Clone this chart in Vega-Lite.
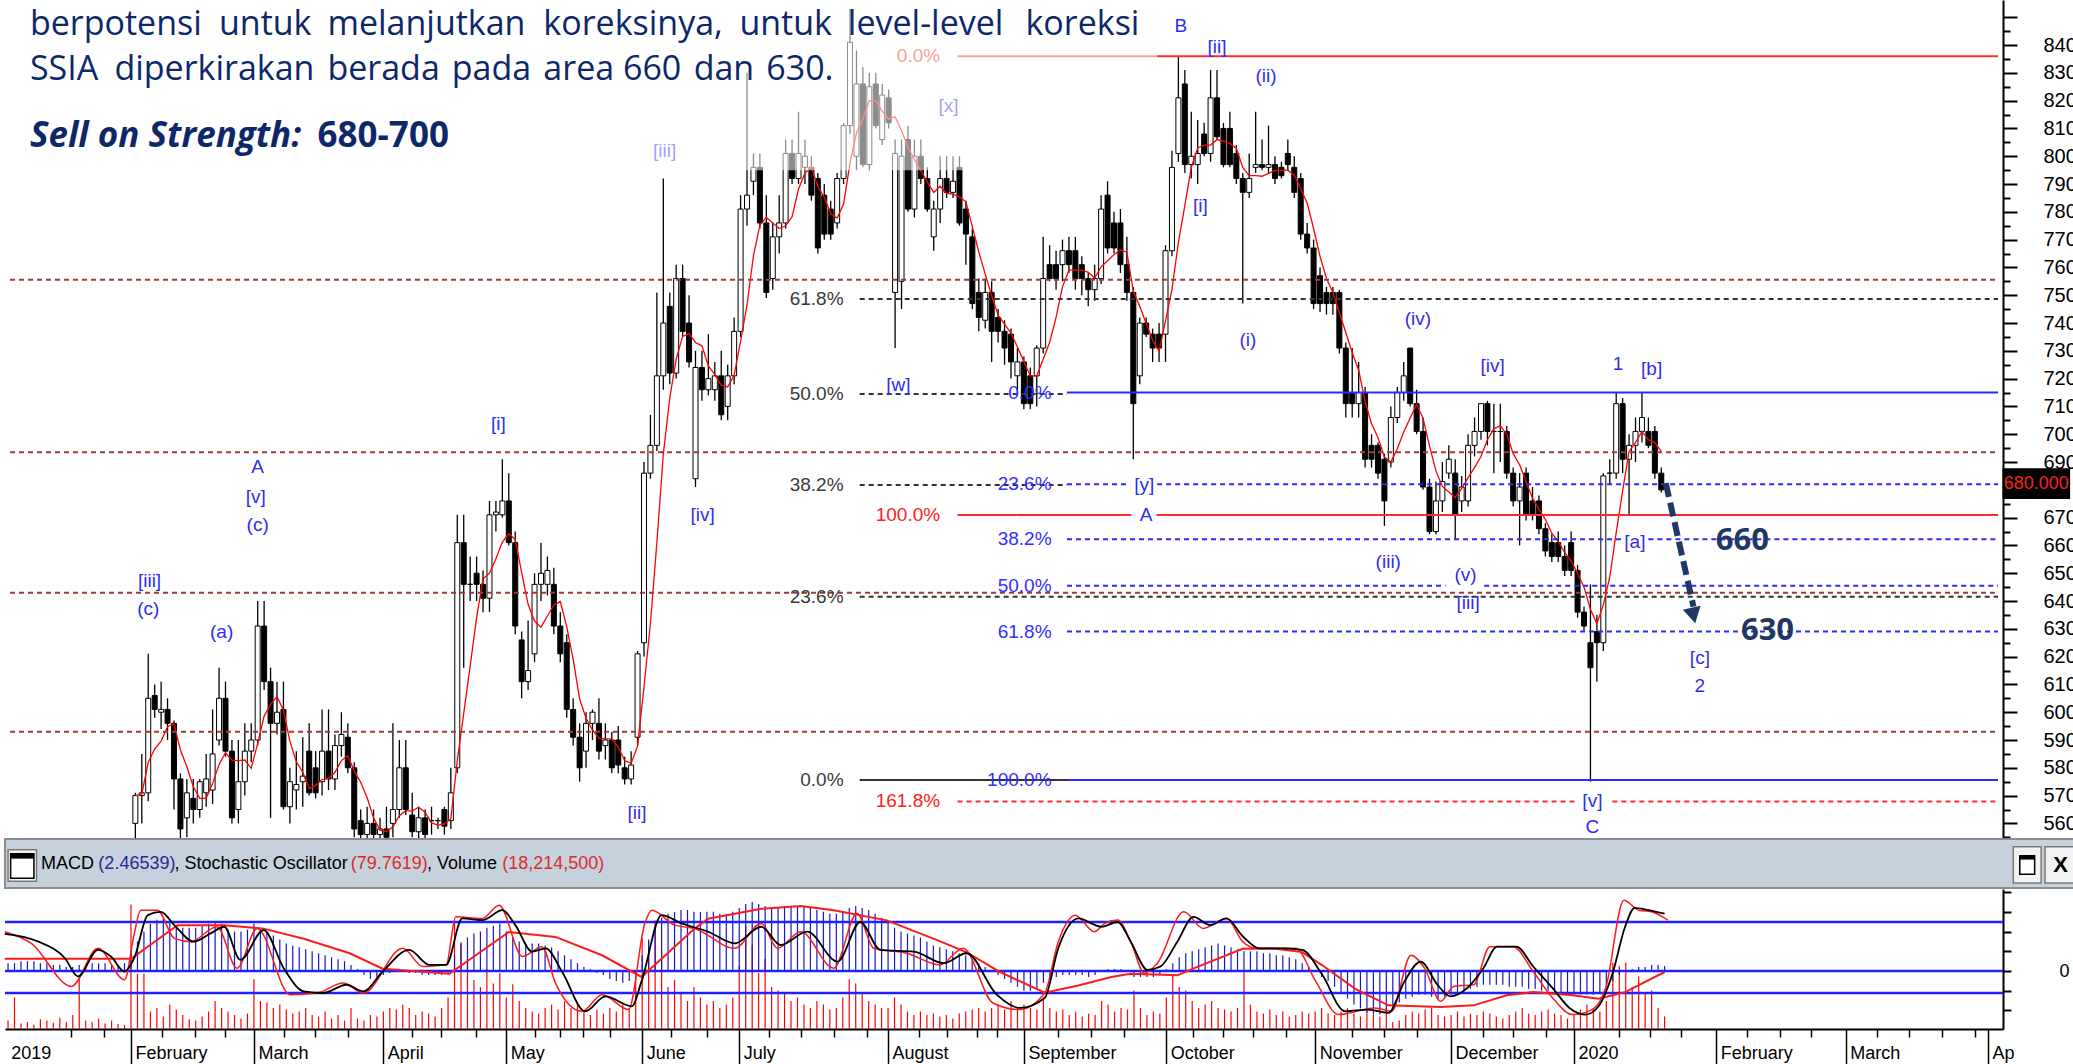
{
"$schema":"https://vega.github.io/schema/vega-lite/v6.json",
"background":"white",
"padding":0,
"spacing":0,
"config":{"view":{"stroke":null},"concat":{"spacing":0}},
"datasets":{
"px":[
{"i":0,"o":560,"h":571,"l":550,"c":570},{"i":1,"o":570,"h":585,"l":560,"c":571},{"i":2,"o":571,"h":621,"l":568,"c":605},{"i":3,"o":606,"h":610,"l":598,"c":601},{"i":4,"o":600,"h":611,"l":594,"c":601},{"i":5,"o":601,"h":605,"l":590,"c":596},{"i":6,"o":596,"h":597,"l":565,"c":576},{"i":7,"o":576,"h":578,"l":552,"c":558},{"i":8,"o":562,"h":576,"l":555,"c":571},{"i":9,"o":569,"h":576,"l":560,"c":565},
{"i":10,"o":565,"h":576,"l":562,"c":575},{"i":11,"o":571,"h":585,"l":566,"c":576},{"i":12,"o":572,"h":601,"l":567,"c":585},{"i":13,"o":590,"h":616,"l":588,"c":605},{"i":14,"o":605,"h":611,"l":584,"c":586},{"i":15,"o":586,"h":590,"l":560,"c":562},{"i":16,"o":565,"h":590,"l":560,"c":575},{"i":17,"o":575,"h":596,"l":570,"c":586},{"i":18,"o":586,"h":596,"l":582,"c":590},{"i":19,"o":590,"h":640,"l":588,"c":631},
{"i":20,"o":631,"h":640,"l":608,"c":611},{"i":21,"o":611,"h":616,"l":562,"c":596},{"i":22,"o":596,"h":611,"l":592,"c":600},{"i":23,"o":601,"h":611,"l":565,"c":566},{"i":24,"o":566,"h":580,"l":560,"c":575},{"i":25,"o":572,"h":586,"l":565,"c":574},{"i":26,"o":575,"h":591,"l":566,"c":577},{"i":27,"o":586,"h":596,"l":570,"c":571},{"i":28,"o":580,"h":586,"l":569,"c":571},{"i":29,"o":575,"h":601,"l":570,"c":586},
{"i":30,"o":586,"h":601,"l":572,"c":576},{"i":31,"o":576,"h":592,"l":572,"c":588},{"i":32,"o":588,"h":600,"l":584,"c":592},{"i":33,"o":591,"h":596,"l":578,"c":580},{"i":34,"o":580,"h":582,"l":555,"c":558},{"i":35,"o":561,"h":565,"l":550,"c":556},{"i":36,"o":556,"h":566,"l":550,"c":560},{"i":37,"o":560,"h":565,"l":552,"c":556},{"i":38,"o":556,"h":562,"l":550,"c":558},{"i":39,"o":558,"h":566,"l":550,"c":555},
{"i":40,"o":560,"h":596,"l":555,"c":565},{"i":41,"o":565,"h":590,"l":562,"c":580},{"i":42,"o":580,"h":590,"l":563,"c":565},{"i":43,"o":563,"h":571,"l":555,"c":557},{"i":44,"o":557,"h":566,"l":552,"c":562},{"i":45,"o":562,"h":565,"l":550,"c":556},{"i":46,"o":561,"h":566,"l":556,"c":561},{"i":47,"o":561,"h":562,"l":558,"c":561},{"i":48,"o":565,"h":566,"l":556,"c":559},{"i":49,"o":561,"h":580,"l":558,"c":571},
{"i":50,"o":580,"h":671,"l":578,"c":661},{"i":51,"o":661,"h":671,"l":616,"c":646},{"i":52,"o":646,"h":656,"l":640,"c":646},{"i":53,"o":650,"h":656,"l":640,"c":646},{"i":54,"o":646,"h":651,"l":636,"c":641},{"i":55,"o":641,"h":676,"l":636,"c":671},{"i":56,"o":671,"h":676,"l":665,"c":672},{"i":57,"o":671,"h":691,"l":670,"c":676},{"i":58,"o":676,"h":686,"l":660,"c":661},{"i":59,"o":661,"h":665,"l":628,"c":631},
{"i":60,"o":626,"h":629,"l":605,"c":611},{"i":61,"o":611,"h":633,"l":608,"c":615},{"i":62,"o":621,"h":650,"l":618,"c":646},{"i":63,"o":646,"h":661,"l":640,"c":650},{"i":64,"o":646,"h":656,"l":642,"c":651},{"i":65,"o":646,"h":652,"l":628,"c":631},{"i":66,"o":631,"h":636,"l":618,"c":621},{"i":67,"o":625,"h":628,"l":598,"c":601},{"i":68,"o":601,"h":605,"l":588,"c":591},{"i":69,"o":591,"h":596,"l":575,"c":580},
{"i":70,"o":586,"h":600,"l":580,"c":596},{"i":71,"o":596,"h":601,"l":590,"c":600},{"i":72,"o":596,"h":605,"l":583,"c":586},{"i":73,"o":588,"h":596,"l":583,"c":590},{"i":74,"o":590,"h":593,"l":578,"c":580},{"i":75,"o":590,"h":595,"l":578,"c":581},{"i":76,"o":580,"h":584,"l":574,"c":576},{"i":77,"o":576,"h":586,"l":574,"c":581},{"i":78,"o":591,"h":622,"l":588,"c":621},{"i":79,"o":625,"h":690,"l":620,"c":686},
{"i":80,"o":686,"h":707,"l":684,"c":696},{"i":81,"o":696,"h":751,"l":694,"c":721},{"i":82,"o":721,"h":792,"l":716,"c":740},{"i":83,"o":746,"h":751,"l":718,"c":722},{"i":84,"o":722,"h":761,"l":720,"c":756},{"i":85,"o":756,"h":761,"l":735,"c":737},{"i":86,"o":740,"h":750,"l":724,"c":726},{"i":87,"o":684,"h":730,"l":681,"c":724},{"i":88,"o":724,"h":730,"l":712,"c":716},{"i":89,"o":716,"h":736,"l":714,"c":720},
{"i":90,"o":716,"h":726,"l":712,"c":721},{"i":91,"o":721,"h":730,"l":705,"c":707},{"i":92,"o":710,"h":725,"l":705,"c":721},{"i":93,"o":721,"h":742,"l":718,"c":737},{"i":94,"o":737,"h":786,"l":735,"c":781},{"i":95,"o":781,"h":830,"l":775,"c":786},{"i":96,"o":791,"h":801,"l":786,"c":796},{"i":97,"o":796,"h":801,"l":774,"c":776},{"i":98,"o":776,"h":786,"l":749,"c":751},{"i":99,"o":756,"h":776,"l":752,"c":771},
{"i":100,"o":771,"h":786,"l":765,"c":776},{"i":101,"o":776,"h":806,"l":774,"c":801},{"i":102,"o":801,"h":806,"l":790,"c":792},{"i":103,"o":792,"h":816,"l":790,"c":801},{"i":104,"o":796,"h":806,"l":790,"c":800},{"i":105,"o":796,"h":800,"l":784,"c":786},{"i":106,"o":792,"h":794,"l":765,"c":767},{"i":107,"o":786,"h":790,"l":770,"c":772},{"i":108,"o":781,"h":784,"l":770,"c":772},{"i":109,"o":776,"h":794,"l":774,"c":792},
{"i":110,"o":792,"h":812,"l":790,"c":811},{"i":111,"o":811,"h":853,"l":808,"c":841},{"i":112,"o":800,"h":838,"l":795,"c":826},{"i":113,"o":826,"h":832,"l":796,"c":797},{"i":114,"o":797,"h":830,"l":795,"c":825},{"i":115,"o":826,"h":830,"l":810,"c":811},{"i":116,"o":806,"h":826,"l":804,"c":822},{"i":117,"o":821,"h":824,"l":810,"c":812},{"i":118,"o":751,"h":806,"l":731,"c":801},{"i":119,"o":755,"h":806,"l":745,"c":800},
{"i":120,"o":806,"h":811,"l":780,"c":781},{"i":121,"o":781,"h":806,"l":778,"c":800},{"i":122,"o":800,"h":806,"l":790,"c":792},{"i":123,"o":792,"h":796,"l":780,"c":781},{"i":124,"o":771,"h":784,"l":766,"c":781},{"i":125,"o":781,"h":800,"l":776,"c":792},{"i":126,"o":792,"h":800,"l":785,"c":787},{"i":127,"o":787,"h":800,"l":785,"c":791},{"i":128,"o":796,"h":800,"l":775,"c":776},{"i":129,"o":781,"h":784,"l":761,"c":772},
{"i":130,"o":771,"h":774,"l":745,"c":747},{"i":131,"o":751,"h":756,"l":737,"c":742},{"i":132,"o":741,"h":756,"l":738,"c":751},{"i":133,"o":751,"h":755,"l":726,"c":737},{"i":134,"o":742,"h":745,"l":733,"c":737},{"i":135,"o":737,"h":741,"l":725,"c":731},{"i":136,"o":736,"h":738,"l":720,"c":726},{"i":137,"o":721,"h":731,"l":716,"c":726},{"i":138,"o":726,"h":728,"l":709,"c":711},{"i":139,"o":721,"h":724,"l":709,"c":711},
{"i":140,"o":721,"h":732,"l":710,"c":731},{"i":141,"o":731,"h":771,"l":729,"c":756},{"i":142,"o":761,"h":768,"l":755,"c":756},{"i":143,"o":761,"h":766,"l":752,"c":756},{"i":144,"o":761,"h":770,"l":755,"c":766},{"i":145,"o":766,"h":771,"l":758,"c":761},{"i":146,"o":766,"h":771,"l":752,"c":756},{"i":147,"o":761,"h":764,"l":750,"c":756},{"i":148,"o":756,"h":758,"l":746,"c":752},{"i":149,"o":752,"h":761,"l":748,"c":756},
{"i":150,"o":756,"h":786,"l":754,"c":781},{"i":151,"o":786,"h":791,"l":765,"c":767},{"i":152,"o":776,"h":780,"l":765,"c":767},{"i":153,"o":776,"h":781,"l":758,"c":761},{"i":154,"o":761,"h":771,"l":748,"c":751},{"i":155,"o":751,"h":753,"l":691,"c":711},{"i":156,"o":721,"h":742,"l":718,"c":740},{"i":157,"o":740,"h":742,"l":735,"c":736},{"i":158,"o":736,"h":738,"l":726,"c":731},{"i":159,"o":736,"h":740,"l":726,"c":731},
{"i":160,"o":736,"h":768,"l":726,"c":766},{"i":161,"o":766,"h":802,"l":764,"c":796},{"i":162,"o":801,"h":836,"l":798,"c":821},{"i":163,"o":826,"h":831,"l":794,"c":797},{"i":164,"o":797,"h":816,"l":792,"c":800},{"i":165,"o":797,"h":813,"l":790,"c":801},{"i":166,"o":808,"h":812,"l":800,"c":801},{"i":167,"o":801,"h":831,"l":798,"c":821},{"i":168,"o":821,"h":831,"l":806,"c":807},{"i":169,"o":810,"h":812,"l":796,"c":797},
{"i":170,"o":810,"h":816,"l":796,"c":797},{"i":171,"o":801,"h":804,"l":790,"c":792},{"i":172,"o":792,"h":794,"l":747,"c":787},{"i":173,"o":787,"h":801,"l":785,"c":792},{"i":174,"o":796,"h":816,"l":794,"c":797},{"i":175,"o":797,"h":806,"l":795,"c":796},{"i":176,"o":796,"h":811,"l":794,"c":797},{"i":177,"o":797,"h":800,"l":790,"c":792},{"i":178,"o":796,"h":798,"l":792,"c":793},{"i":179,"o":801,"h":806,"l":795,"c":797},
{"i":180,"o":796,"h":800,"l":785,"c":787},{"i":181,"o":792,"h":794,"l":770,"c":772},{"i":182,"o":772,"h":776,"l":765,"c":767},{"i":183,"o":767,"h":770,"l":745,"c":747},{"i":184,"o":757,"h":760,"l":744,"c":747},{"i":185,"o":751,"h":753,"l":743,"c":747},{"i":186,"o":751,"h":753,"l":743,"c":747},{"i":187,"o":751,"h":752,"l":729,"c":731},{"i":188,"o":731,"h":733,"l":706,"c":711},{"i":189,"o":715,"h":731,"l":706,"c":711},
{"i":190,"o":711,"h":726,"l":706,"c":715},{"i":191,"o":715,"h":717,"l":688,"c":691},{"i":192,"o":696,"h":700,"l":688,"c":691},{"i":193,"o":696,"h":697,"l":684,"c":686},{"i":194,"o":691,"h":693,"l":667,"c":676},{"i":195,"o":690,"h":710,"l":688,"c":706},{"i":196,"o":706,"h":717,"l":704,"c":715},{"i":197,"o":715,"h":726,"l":712,"c":721},{"i":198,"o":731,"h":731,"l":710,"c":711},{"i":199,"o":711,"h":716,"l":700,"c":701},
{"i":200,"o":701,"h":706,"l":680,"c":681},{"i":201,"o":681,"h":684,"l":664,"c":665},{"i":202,"o":665,"h":683,"l":664,"c":676},{"i":203,"o":676,"h":690,"l":672,"c":683},{"i":204,"o":686,"h":696,"l":684,"c":691},{"i":205,"o":686,"h":691,"l":662,"c":671},{"i":206,"o":676,"h":685,"l":672,"c":681},{"i":207,"o":676,"h":700,"l":674,"c":696},{"i":208,"o":696,"h":706,"l":692,"c":701},{"i":209,"o":701,"h":711,"l":698,"c":711},
{"i":210,"o":711,"h":712,"l":696,"c":701},{"i":211,"o":701,"h":711,"l":686,"c":701},{"i":212,"o":701,"h":711,"l":690,"c":701},{"i":213,"o":701,"h":703,"l":684,"c":686},{"i":214,"o":686,"h":688,"l":674,"c":676},{"i":215,"o":676,"h":686,"l":660,"c":681},{"i":216,"o":686,"h":688,"l":669,"c":671},{"i":217,"o":676,"h":681,"l":669,"c":671},{"i":218,"o":676,"h":678,"l":664,"c":666},{"i":219,"o":666,"h":668,"l":656,"c":658},
{"i":220,"o":661,"h":664,"l":654,"c":656},{"i":221,"o":661,"h":665,"l":654,"c":656},{"i":222,"o":656,"h":660,"l":649,"c":651},{"i":223,"o":661,"h":665,"l":649,"c":651},{"i":224,"o":651,"h":653,"l":634,"c":636},{"i":225,"o":636,"h":638,"l":629,"c":631},{"i":226,"o":625,"h":646,"l":575,"c":616},{"i":227,"o":629,"h":635,"l":611,"c":625},{"i":228,"o":625,"h":686,"l":622,"c":685},{"i":229,"o":686,"h":691,"l":682,"c":686},
{"i":230,"o":686,"h":715,"l":684,"c":711},{"i":231,"o":711,"h":713,"l":686,"c":691},{"i":232,"o":691,"h":700,"l":671,"c":696},{"i":233,"o":696,"h":706,"l":690,"c":701},{"i":234,"o":701,"h":715,"l":697,"c":706},{"i":235,"o":701,"h":706,"l":695,"c":696},{"i":236,"o":701,"h":703,"l":684,"c":686},{"i":237,"o":686,"h":688,"l":679,"c":680}
],
"ind":[
{"i":-19,"v":12,"m":4},{"i":-18,"v":45,"m":4},{"i":-17,"v":8,"m":5},{"i":-16,"v":10,"m":5},{"i":-15,"v":6,"m":5},{"i":-14,"v":14,"m":4},{"i":-13,"v":12,"m":4},{"i":-12,"v":9,"m":3},{"i":-11,"v":16,"m":3},{"i":-10,"v":10,"m":2},{"i":-9,"v":20,"m":2},{"i":-8,"v":74,"m":3},{"i":-7,"v":12,"m":3},{"i":-6,"v":10,"m":4},{"i":-5,"v":15,"m":4},{"i":-4,"v":8,"m":4},{"i":-3,"v":12,"m":3},{"i":-2,"v":7,"m":3},{"i":-1,"v":6,"m":4},
{"i":0,"v":178,"m":10},{"i":1,"v":79,"m":15},{"i":2,"v":79,"m":20},{"i":3,"v":25,"m":24},{"i":4,"v":30,"m":26},{"i":5,"v":18,"m":27},{"i":6,"v":35,"m":25},{"i":7,"v":28,"m":23},{"i":8,"v":20,"m":22},{"i":9,"v":14,"m":22},{"i":10,"v":12,"m":22},{"i":11,"v":18,"m":23},{"i":12,"v":25,"m":24},{"i":13,"v":40,"m":25},{"i":14,"v":30,"m":24},{"i":15,"v":25,"m":21},{"i":16,"v":20,"m":20},{"i":17,"v":15,"m":20},{"i":18,"v":22,"m":21},
{"i":19,"v":71,"m":24},{"i":20,"v":40,"m":22},{"i":21,"v":38,"m":20},{"i":22,"v":30,"m":18},{"i":23,"v":35,"m":16},{"i":24,"v":28,"m":14},{"i":25,"v":22,"m":13},{"i":26,"v":25,"m":12},{"i":27,"v":30,"m":11},{"i":28,"v":20,"m":10},{"i":29,"v":18,"m":9},{"i":30,"v":25,"m":8},{"i":31,"v":15,"m":7},{"i":32,"v":20,"m":6},{"i":33,"v":12,"m":5},{"i":34,"v":30,"m":3},{"i":35,"v":15,"m":1},{"i":36,"v":12,"m":-2},{"i":37,"v":20,"m":-4},{"i":38,"v":18,"m":-3},
{"i":39,"v":25,"m":-2},{"i":40,"v":30,"m":-1},{"i":41,"v":28,"m":0},{"i":42,"v":35,"m":0},{"i":43,"v":30,"m":-1},{"i":44,"v":20,"m":-1},{"i":45,"v":25,"m":-2},{"i":46,"v":22,"m":-2},{"i":47,"v":18,"m":-2},{"i":48,"v":30,"m":-2},{"i":49,"v":45,"m":-1},{"i":50,"v":155,"m":8},{"i":51,"v":124,"m":14},{"i":52,"v":100,"m":17},{"i":53,"v":70,"m":19},{"i":54,"v":60,"m":20},{"i":55,"v":85,"m":22},{"i":56,"v":65,"m":23},{"i":57,"v":80,"m":24},
{"i":58,"v":45,"m":20},{"i":59,"v":64,"m":17},{"i":60,"v":40,"m":15},{"i":61,"v":30,"m":14},{"i":62,"v":25,"m":14},{"i":63,"v":22,"m":14},{"i":64,"v":30,"m":13},{"i":65,"v":35,"m":12},{"i":66,"v":28,"m":10},{"i":67,"v":40,"m":8},{"i":68,"v":30,"m":6},{"i":69,"v":35,"m":4},{"i":70,"v":25,"m":2},{"i":71,"v":20,"m":1},{"i":72,"v":28,"m":-1},{"i":73,"v":22,"m":-2},{"i":74,"v":30,"m":-4},{"i":75,"v":25,"m":-5},{"i":76,"v":35,"m":-6},{"i":77,"v":30,"m":-5},{"i":78,"v":83,"m":-2},
{"i":79,"v":130,"m":8},{"i":80,"v":125,"m":16},{"i":81,"v":155,"m":22},{"i":82,"v":110,"m":27},{"i":83,"v":60,"m":29},{"i":84,"v":70,"m":30},{"i":85,"v":50,"m":31},{"i":86,"v":40,"m":31},{"i":87,"v":60,"m":30},{"i":88,"v":45,"m":30},{"i":89,"v":35,"m":30},{"i":90,"v":40,"m":30},{"i":91,"v":30,"m":29},{"i":92,"v":35,"m":29},{"i":93,"v":45,"m":30},
{"i":94,"v":90,"m":32},{"i":95,"v":147,"m":34},{"i":96,"v":120,"m":35},{"i":97,"v":80,"m":34},{"i":98,"v":100,"m":33},{"i":99,"v":60,"m":32},{"i":100,"v":55,"m":32},{"i":101,"v":50,"m":33},{"i":102,"v":40,"m":33},{"i":103,"v":45,"m":33},{"i":104,"v":35,"m":33},{"i":105,"v":30,"m":32},{"i":106,"v":40,"m":31},{"i":107,"v":35,"m":30},{"i":108,"v":28,"m":29},{"i":109,"v":30,"m":29},{"i":110,"v":45,"m":30},{"i":111,"v":71,"m":32},{"i":112,"v":65,"m":33},{"i":113,"v":50,"m":32},{"i":114,"v":40,"m":31},{"i":115,"v":35,"m":29},{"i":116,"v":30,"m":27},
{"i":117,"v":30,"m":25},{"i":118,"v":45,"m":22},{"i":119,"v":35,"m":20},{"i":120,"v":25,"m":19},{"i":121,"v":20,"m":18},{"i":122,"v":25,"m":17},{"i":123,"v":20,"m":15},{"i":124,"v":22,"m":13},{"i":125,"v":18,"m":12},{"i":126,"v":20,"m":11},{"i":127,"v":15,"m":10},{"i":128,"v":22,"m":9},{"i":129,"v":25,"m":8},{"i":130,"v":28,"m":6},{"i":131,"v":30,"m":4},{"i":132,"v":25,"m":2},{"i":133,"v":30,"m":0},{"i":134,"v":35,"m":-2},{"i":135,"v":28,"m":-4},{"i":136,"v":40,"m":-6},{"i":137,"v":30,"m":-8},
{"i":138,"v":35,"m":-10},{"i":139,"v":30,"m":-10},{"i":140,"v":28,"m":-9},{"i":141,"v":45,"m":-6},{"i":142,"v":30,"m":-4},{"i":143,"v":25,"m":-3},{"i":144,"v":28,"m":-2},{"i":145,"v":20,"m":-2},{"i":146,"v":25,"m":-2},{"i":147,"v":18,"m":-2},{"i":148,"v":22,"m":-3},{"i":149,"v":20,"m":-2},{"i":150,"v":40,"m":0},{"i":151,"v":35,"m":1},{"i":152,"v":25,"m":1},{"i":153,"v":30,"m":1},{"i":154,"v":28,"m":0},{"i":155,"v":55,"m":-3},{"i":156,"v":30,"m":-3},{"i":157,"v":20,"m":-3},{"i":158,"v":25,"m":-3},{"i":159,"v":22,"m":-2},
{"i":160,"v":45,"m":1},{"i":161,"v":76,"m":4},{"i":162,"v":60,"m":7},{"i":163,"v":55,"m":9},{"i":164,"v":40,"m":10},{"i":165,"v":30,"m":11},{"i":166,"v":35,"m":12},{"i":167,"v":40,"m":13},{"i":168,"v":30,"m":14},{"i":169,"v":28,"m":13},{"i":170,"v":25,"m":12},{"i":171,"v":30,"m":11},{"i":172,"v":83,"m":10},{"i":173,"v":35,"m":10},{"i":174,"v":25,"m":10},{"i":175,"v":22,"m":9},{"i":176,"v":28,"m":9},{"i":177,"v":20,"m":8},{"i":178,"v":25,"m":8},{"i":179,"v":18,"m":7},{"i":180,"v":20,"m":6},{"i":181,"v":25,"m":4},{"i":182,"v":22,"m":2},
{"i":183,"v":25,"m":0},{"i":184,"v":30,"m":-3},{"i":185,"v":22,"m":-5},{"i":186,"v":20,"m":-8},{"i":187,"v":25,"m":-11},{"i":188,"v":30,"m":-14},{"i":189,"v":22,"m":-17},{"i":190,"v":18,"m":-19},{"i":191,"v":25,"m":-21},{"i":192,"v":20,"m":-22},{"i":193,"v":18,"m":-22},{"i":194,"v":30,"m":-21},{"i":195,"v":10,"m":-18},{"i":196,"v":12,"m":-16},{"i":197,"v":20,"m":-14},{"i":198,"v":25,"m":-13},{"i":199,"v":22,"m":-12},{"i":200,"v":28,"m":-12},{"i":201,"v":30,"m":-13},{"i":202,"v":20,"m":-14},{"i":203,"v":18,"m":-13},
{"i":204,"v":20,"m":-12},{"i":205,"v":25,"m":-11},{"i":206,"v":18,"m":-10},{"i":207,"v":22,"m":-9},{"i":208,"v":20,"m":-8},{"i":209,"v":25,"m":-7},{"i":210,"v":22,"m":-7},{"i":211,"v":18,"m":-7},{"i":212,"v":15,"m":-7},{"i":213,"v":20,"m":-8},{"i":214,"v":25,"m":-8},{"i":215,"v":30,"m":-8},{"i":216,"v":22,"m":-9},{"i":217,"v":20,"m":-9},{"i":218,"v":25,"m":-10},{"i":219,"v":28,"m":-10},{"i":220,"v":22,"m":-11},{"i":221,"v":20,"m":-11},{"i":222,"v":15,"m":-11},
{"i":223,"v":20,"m":-12},{"i":224,"v":28,"m":-12},{"i":225,"v":35,"m":-12},{"i":226,"v":30,"m":-12},{"i":227,"v":25,"m":-11},{"i":228,"v":40,"m":-8},{"i":229,"v":95,"m":-5},{"i":230,"v":90,"m":-2},{"i":231,"v":95,"m":0},{"i":232,"v":60,"m":1},{"i":233,"v":75,"m":2},{"i":234,"v":50,"m":2},{"i":235,"v":55,"m":3},{"i":236,"v":30,"m":3},{"i":237,"v":18,"m":2.5}
],
"stk":[
{"i":-19.5,"val":70},{"i":-14.3,"val":63.4},{"i":-10.2,"val":49.4},{"i":-8.2,"val":34},{"i":-5.1,"val":56.4},{"i":-3.1,"val":50.8},{"i":-1.0,"val":38.2},{"i":0.5,"val":49.4},{"i":2.6,"val":85.8},{"i":4.6,"val":88.6},{"i":6.7,"val":77.4},{"i":9.7,"val":63.4},{"i":12.3,"val":70.4},{"i":14.4,"val":76},{"i":16.9,"val":48},{"i":20.5,"val":73.2},{"i":23.6,"val":41},{"i":26.7,"val":21.4},{"i":29.7,"val":20},{"i":33.3,"val":27},{"i":35.9,"val":21.4},{"i":38.9,"val":38.2},{"i":43.0,"val":56.4},{"i":46.1,"val":43.8},{"i":48.7,"val":43.8},{"i":51.2,"val":83},{"i":54.3,"val":81.6},{"i":57.4,"val":90},{"i":59.4,"val":77.4},{"i":62.0,"val":55},{"i":64.1,"val":57.8},{"i":66.6,"val":38.2},{"i":70.2,"val":4.6},{"i":73.3,"val":17.2},{"i":77.4,"val":8.8},{"i":78.9,"val":29.8},{"i":82.0,"val":85.8},{"i":85.1,"val":78.8},{"i":89.2,"val":71.8},{"i":93.3,"val":62},{"i":97.4,"val":76},{"i":100.4,"val":60.6},{"i":104.5,"val":71.8},{"i":109.2,"val":46.6},{"i":112.7,"val":80},{"i":115.8,"val":56.4},{"i":121.0,"val":55},{"i":125.6,"val":45.2},{"i":129.1,"val":53.6},{"i":133.8,"val":18.6},{"i":137.3,"val":7.4},{"i":141.2,"val":15.8},{"i":143.3,"val":57.8},{"i":146.4,"val":83},{"i":150.0,"val":76},{"i":152.5,"val":80},{"i":154.5,"val":63.4},{"i":157.1,"val":39.6},{"i":159.1,"val":42.4},{"i":161.7,"val":63.4},{"i":164.2,"val":84.4},{"i":166.8,"val":77.4},{"i":169.3,"val":83},{"i":171.8,"val":68},{"i":174.4,"val":57.8},{"i":178.0,"val":57.8},{"i":181.0,"val":56.4},{"i":184.1,"val":35.4},{"i":187.6,"val":4.6},{"i":191.2,"val":6},{"i":194.3,"val":3.2},{"i":196.8,"val":29.8},{"i":199.3,"val":46.6},{"i":201.9,"val":27},{"i":203.9,"val":17.2},{"i":206.5,"val":24.2},{"i":209.0,"val":41},{"i":211.1,"val":59.2},{"i":214.1,"val":59.2},{"i":216.7,"val":42.4},{"i":219.7,"val":24.2},{"i":222.3,"val":7.4},{"i":224.8,"val":1.8},{"i":226.8,"val":8.8},{"i":228.9,"val":35.4},{"i":230.9,"val":76},{"i":232.4,"val":92},{"i":234.5,"val":90},{"i":237.0,"val":87}
],
"fst":[
{"i":-19.5,"val":71.8},{"i":-15.4,"val":62},{"i":-9.2,"val":25.6},{"i":-5.1,"val":57.8},{"i":-1.0,"val":31.2},{"i":0.5,"val":70},{"i":1.5,"val":90},{"i":4.1,"val":90},{"i":6.7,"val":66.2},{"i":9.2,"val":63.4},{"i":13.3,"val":76},{"i":16.4,"val":41},{"i":19.5,"val":74.6},{"i":24.6,"val":18.6},{"i":28.7,"val":20},{"i":32.8,"val":28.4},{"i":35.9,"val":20},{"i":42.0,"val":57.8},{"i":45.1,"val":42.4},{"i":48.7,"val":43.8},{"i":50.2,"val":84.4},{"i":54.3,"val":83},{"i":56.9,"val":94.2},{"i":60.5,"val":50.8},{"i":63.5,"val":59.2},{"i":65.6,"val":28.4},{"i":69.7,"val":4.6},{"i":72.8,"val":18.6},{"i":76.9,"val":6},{"i":79.4,"val":78.8},{"i":80.5,"val":90},{"i":84.0,"val":77.4},{"i":87.1,"val":74.6},{"i":93.3,"val":57.8},{"i":97.4,"val":78.8},{"i":99.9,"val":57.8},{"i":103.5,"val":71.8},{"i":108.6,"val":41},{"i":112.2,"val":87.2},{"i":114.8,"val":57.8},{"i":119.9,"val":53.6},{"i":125.0,"val":43.8},{"i":128.6,"val":57.8},{"i":133.2,"val":11.6},{"i":137.3,"val":6},{"i":141.2,"val":20},{"i":143.3,"val":63.4},{"i":145.9,"val":85.8},{"i":148.9,"val":71.8},{"i":150.5,"val":78.8},{"i":152.5,"val":81.6},{"i":154.5,"val":63.4},{"i":156.6,"val":36.8},{"i":158.6,"val":45.2},{"i":162.7,"val":88.6},{"i":165.7,"val":74.6},{"i":169.3,"val":83},{"i":171.8,"val":63.4},{"i":173.9,"val":57.8},{"i":180.0,"val":57.8},{"i":183.1,"val":29.8},{"i":186.6,"val":1.8},{"i":192.2,"val":7.4},{"i":194.8,"val":4.6},{"i":197.8,"val":52},{"i":199.9,"val":41},{"i":202.4,"val":13},{"i":204.4,"val":25.6},{"i":207.5,"val":27},{"i":210.0,"val":59.2},{"i":213.6,"val":59.2},{"i":216.7,"val":38.2},{"i":219.7,"val":15.8},{"i":222.8,"val":1.8},{"i":225.8,"val":6},{"i":227.9,"val":24.2},{"i":230.7,"val":98.4},{"i":233.0,"val":90},{"i":235.0,"val":88.6},{"i":237.5,"val":81.6}
],
"sig":[
{"i":-19.5,"val":6.2},{"i":0,"val":6.2},{"i":7.2,"val":23.2},{"i":14.4,"val":23.2},{"i":20.5,"val":21.5},{"i":26.7,"val":16.4},{"i":33.8,"val":9},{"i":38.9,"val":1.2},{"i":49.2,"val":-1.4},{"i":58.4,"val":19.8},{"i":65.6,"val":17.3},{"i":72.8,"val":8},{"i":78.9,"val":-3.0},{"i":87.1,"val":21.5},{"i":89.2,"val":26.5},{"i":97.4,"val":31.6},{"i":103.5,"val":33},{"i":108.6,"val":30.8},{"i":116.8,"val":25.7},{"i":124.0,"val":16.4},{"i":129.1,"val":9.6},{"i":134.3,"val":-0.5},{"i":141.2,"val":-11},{"i":146.4,"val":-7.3},{"i":151.5,"val":-3.0},{"i":154.5,"val":-1.4},{"i":161.7,"val":-2.2},{"i":164.7,"val":2.0},{"i":171.8,"val":11.3},{"i":176.9,"val":11.3},{"i":181.0,"val":9.6},{"i":184.1,"val":2.9},{"i":189.2,"val":-9.0},{"i":194.3,"val":-17.4},{"i":202.4,"val":-18.3},{"i":207.5,"val":-17.4},{"i":212.6,"val":-12.3},{"i":216.7,"val":-10.7},{"i":222.8,"val":-12.3},{"i":226.8,"val":-14.0},{"i":230.9,"val":-10.7},{"i":237.0,"val":-0.5}
],
"lv":[
{"x1":-19.47,"x2":289.3,"p":755.6,"kind":"brown"},{"x1":-19.47,"x2":289.3,"p":693.5,"kind":"brown"},{"x1":-19.47,"x2":289.3,"p":643.0,"kind":"brown"},{"x1":-19.47,"x2":289.3,"p":593.0,"kind":"brown"},
{"x1":112.5,"x2":289.3,"p":748.6,"kind":"blackdash"},{"x1":112.5,"x2":144.7,"p":714.5,"kind":"blackdash"},{"x1":112.5,"x2":144.7,"p":681.7,"kind":"blackdash"},{"x1":112.5,"x2":289.3,"p":641.5,"kind":"blackdash"},{"x1":112.5,"x2":144.7,"p":575.6,"kind":"black"},
{"x1":144.7,"x2":289.3,"p":715.0,"kind":"blue"},{"x1":144.7,"x2":289.3,"p":575.6,"kind":"blue"},
{"x1":144.7,"x2":154.4,"p":682.0,"kind":"bluedash"},{"x1":158.7,"x2":289.3,"p":682.0,"kind":"bluedash"},{"x1":144.7,"x2":231.0,"p":662.2,"kind":"bluedash"},{"x1":235.0,"x2":289.3,"p":662.2,"kind":"bluedash"},{"x1":144.7,"x2":203.5,"p":645.5,"kind":"bluedash"},{"x1":209.5,"x2":289.3,"p":645.5,"kind":"bluedash"},{"x1":144.7,"x2":289.3,"p":629.0,"kind":"bluedash"},
{"x1":127.7,"x2":289.3,"p":836.0,"kind":"redthick"},{"x1":127.7,"x2":154.7,"p":670.9,"kind":"red"},{"x1":158.6,"x2":289.3,"p":670.9,"kind":"red"},{"x1":127.7,"x2":223.6,"p":567.9,"kind":"reddash"},{"x1":229.4,"x2":289.3,"p":567.9,"kind":"reddash"}
],
"lvl":[
{"i":110.0,"p":748.6,"t":"61.8%","kind":"k"},{"i":110.0,"p":714.5,"t":"50.0%","kind":"k"},{"i":110.0,"p":681.7,"t":"38.2%","kind":"k"},{"i":110.0,"p":641.5,"t":"23.6%","kind":"k"},{"i":110.0,"p":575.6,"t":"0.0%","kind":"k"},
{"i":125.0,"p":836.0,"t":"0.0%","kind":"r"},{"i":125.0,"p":670.9,"t":"100.0%","kind":"r"},{"i":125.0,"p":567.9,"t":"161.8%","kind":"r"},
{"i":142.3,"p":715.0,"t":"0.0%","kind":"b"},{"i":142.3,"p":682.0,"t":"23.6%","kind":"b"},{"i":142.3,"p":662.2,"t":"38.2%","kind":"b"},{"i":142.3,"p":645.5,"t":"50.0%","kind":"b"},{"i":142.3,"p":629.0,"t":"61.8%","kind":"b"},{"i":142.3,"p":575.6,"t":"100.0%","kind":"b"}
],
"wv":[
{"i":162.4,"p":846.8,"t":"B"},{"i":168.0,"p":839.3,"t":"[ii]"},{"i":175.6,"p":828.8,"t":"(ii)"},{"i":126.3,"p":818.1,"t":"[x]"},{"i":82.2,"p":801.9,"t":"[iii]"},{"i":165.4,"p":782.1,"t":"[i]"},{"i":172.8,"p":733.9,"t":"(i)"},{"i":199.2,"p":741.4,"t":"(iv)"},{"i":210.8,"p":724.5,"t":"[iv]"},{"i":230.3,"p":725.3,"t":"1"},{"i":235.5,"p":723.5,"t":"[b]"},{"i":118.5,"p":717.7,"t":"[w]"},{"i":56.4,"p":703.7,"t":"[i]"},{"i":19.0,"p":688.2,"t":"A"},{"i":18.7,"p":677.4,"t":"[v]"},{"i":19.0,"p":667.3,"t":"(c)"},{"i":88.1,"p":670.9,"t":"[iv]"},{"i":156.7,"p":681.7,"t":"[y]"},{"i":157.0,"p":670.9,"t":"A"},{"i":194.6,"p":654.0,"t":"(iii)"},{"i":232.9,"p":661.4,"t":"[a]"},{"i":206.6,"p":649.4,"t":"(v)"},{"i":207.0,"p":639.3,"t":"[iii]"},{"i":2.2,"p":647.2,"t":"[iii]"},{"i":2.0,"p":637.1,"t":"(c)"},{"i":13.4,"p":628.8,"t":"(a)"},{"i":243.0,"p":619.5,"t":"[c]"},{"i":243.0,"p":609.4,"t":"2"},{"i":77.9,"p":563.7,"t":"[ii]"},{"i":226.3,"p":568.1,"t":"[v]"},{"i":226.3,"p":558.7,"t":"C"}
],
"ttl":[
{"i":-16.38,"p":843.6,"t":"berpotensi"},{"i":12.98,"p":843.6,"t":"untuk"},{"i":29.83,"p":843.6,"t":"melanjutkan"},{"i":63.37,"p":843.6,"t":"koreksinya,"},{"i":93.82,"p":843.6,"t":"untuk"},{"i":110.66,"p":843.6,"t":"level-level"},{"i":138.25,"p":843.6,"t":"koreksi"},
{"i":-16.38,"p":827.4,"t":"SSIA"},{"i":-3.25,"p":827.4,"t":"diperkirakan"},{"i":29.83,"p":827.4,"t":"berada"},{"i":49.15,"p":827.4,"t":"pada"},{"i":63.37,"p":827.4,"t":"area"},{"i":75.73,"p":827.4,"t":"660"},{"i":86.71,"p":827.4,"t":"dan"},{"i":97.99,"p":827.4,"t":"630."}
],
"hdr":[
{"i":-13.91,"t":"MACD","g":"k"},{"i":-5.04,"t":"(2.46539)","g":"n"},{"i":6.74,"t":", Stochastic Oscillator","g":"k"},{"i":33.96,"t":"(79.7619)","g":"r"},{"i":45.73,"t":", Volume","g":"k"},{"i":57.36,"t":"(18,214,500)","g":"r"}
]
},
"vconcat":[
{
"width":1998,"height":838,
"resolve":{"scale":{"color":"independent","strokeDash":"independent","strokeWidth":"independent"},"axis":{"y":"independent"}},
"layer":[
{"data":{"name":"px"},"mark":{"type":"rule","color":"#000","strokeWidth":1.3,"clip":true},
 "encoding":{"x":{"field":"i","type":"quantitative","scale":{"domain":[-19.47,289.3],"nice":false,"zero":false},"axis":null},
  "y":{"field":"l","type":"quantitative","scale":{"domain":[554.75,856.2],"nice":false,"zero":false},
   "axis":{"orient":"right","title":null,"grid":false,"values":[560,570,580,590,600,610,620,630,640,650,660,670,680,690,700,710,720,730,740,750,760,770,780,790,800,810,820,830,840,850],
    "format":"d","labelExpr":"datum.value < 850 && datum.value != 680 ? datum.label : ''","domainColor":"#000","domainWidth":2,"tickColor":"#000","tickWidth":2,"tickSize":14,
    "labelPadding":26,"labelFont":"Liberation Sans","labelFontSize":20,"labelColor":"#000","labelOverlap":false,"labelBound":false,"labelFlush":false}},
  "y2":{"field":"h"}}},
{"data":{"name":"px"},"mark":{"type":"bar","size":5,"stroke":"#000","strokeWidth":1,"clip":true},
 "encoding":{"x":{"field":"i","type":"quantitative","axis":null},
  "y":{"field":"o","type":"quantitative","scale":{"domain":[554.75,856.2],"nice":false,"zero":false},
   "axis":{"orient":"right","title":null,"grid":false,"labels":false,"domain":false,"values":[555,565,575,585,595,605,615,625,635,645,655,665,675,685,695,705,715,725,735,745,755,765,775,785,795,805,815,825,835,845],"tickColor":"#000","tickWidth":2,"tickSize":7}},
  "y2":{"field":"c"},
  "fill":{"condition":{"test":"datum.c < datum.o","value":"#000000"},"value":"#ffffff"}}},
{"data":{"name":"px"},"transform":[{"window":[{"op":"mean","field":"c","as":"ma"}],"frame":[-4,0],"sort":[{"field":"i"}]}],
 "mark":{"type":"line","color":"#ff0000","strokeWidth":1.3,"clip":true},
 "encoding":{"x":{"field":"i","type":"quantitative","axis":null},"y":{"field":"ma","type":"quantitative","axis":null}}},
{"data":{"name":"lv"},"mark":{"type":"rule","clip":true},
 "encoding":{"x":{"field":"x1","type":"quantitative","axis":null},"x2":{"field":"x2"},
  "y":{"field":"p","type":"quantitative","axis":null},
  "color":{"field":"kind","type":"nominal","scale":{"domain":["brown","blackdash","black","blue","bluedash","red","redthick","reddash"],"range":["#a33838","#333333","#333333","#2a2aff","#2a2aff","#ff2a2a","#ff2a2a","#ff2a2a"]},"legend":null},
  "strokeDash":{"field":"kind","type":"nominal","scale":{"domain":["brown","blackdash","black","blue","bluedash","red","redthick","reddash"],"range":[[5,4],[5,4],[1,0],[1,0],[5,4],[1,0],[1,0],[5,4]]},"legend":null},
  "strokeWidth":{"field":"kind","type":"nominal","scale":{"domain":["brown","blackdash","black","blue","bluedash","red","redthick","reddash"],"range":[2,2,2,2,2,2,3,2]},"legend":null}}},
{"data":{"name":"lvl"},"mark":{"type":"text","align":"right","baseline":"middle","font":"Liberation Sans","fontSize":19},
 "encoding":{"x":{"field":"i","type":"quantitative","axis":null},"y":{"field":"p","type":"quantitative","axis":null},"text":{"field":"t"},
  "color":{"field":"kind","type":"nominal","scale":{"domain":["k","r","b"],"range":["#3a3a3a","#ff2020","#3030ff"]},"legend":null}}},
{"data":{"name":"wv"},"mark":{"type":"text","align":"center","baseline":"middle","font":"Liberation Sans","fontSize":19,"color":"#2d2df0"},
 "encoding":{"x":{"field":"i","type":"quantitative","axis":null},"y":{"field":"p","type":"quantitative","axis":null},"text":{"field":"t"}}},
{"data":{"values":[{"i":237.7,"p":682.4},{"i":242.0,"p":638.0}]},"mark":{"type":"line","color":"#1f3864","strokeWidth":6,"strokeDash":[14,6],"strokeCap":"butt"},
 "encoding":{"x":{"field":"i","type":"quantitative","axis":null},"y":{"field":"p","type":"quantitative","axis":null}}},
{"data":{"values":[{"i":242.0,"p":634.8}]},"mark":{"type":"point","shape":"triangle-down","filled":true,"color":"#1f3864","size":330,"angle":347,"opacity":1},
 "encoding":{"x":{"field":"i","type":"quantitative","axis":null},"y":{"field":"p","type":"quantitative","axis":null}}},
{"data":{"values":[{"i":249.6,"p":661.6,"t":"660"},{"i":253.5,"p":629.2,"t":"630"}]},"mark":{"type":"text","align":"center","baseline":"middle","font":"Open Sans","fontWeight":"bold","fontSize":31,"color":"#1f3864"},
 "encoding":{"x":{"field":"i","type":"quantitative","axis":null},"y":{"field":"p","type":"quantitative","axis":null},"text":{"field":"t"}}},
{"data":{"values":[{"x1":-19.47,"x2":158.7,"p1":795.0,"p2":856.2}]},"mark":{"type":"rect","fill":"#ffffff","opacity":0.55},
 "encoding":{"x":{"field":"x1","type":"quantitative","axis":null},"x2":{"field":"x2"},"y":{"field":"p1","type":"quantitative","axis":null},"y2":{"field":"p2"}}},
{"data":{"name":"ttl"},"mark":{"type":"text","align":"left","baseline":"alphabetic","font":"Open Sans","fontSize":34,"color":"#0e2769"},
 "encoding":{"x":{"field":"i","type":"quantitative","axis":null},"y":{"field":"p","type":"quantitative","axis":null},"text":{"field":"t"}}},
{"data":{"values":[{"i":-16.38,"p":803.3,"t":"Sell on Strength:"}]},"mark":{"type":"text","align":"left","baseline":"alphabetic","font":"Open Sans","fontSize":35,"fontWeight":"bold","fontStyle":"italic","color":"#0e2769"},
 "encoding":{"x":{"field":"i","type":"quantitative","axis":null},"y":{"field":"p","type":"quantitative","axis":null},"text":{"field":"t"}}},
{"data":{"values":[{"i":28.3,"p":803.3,"t":"680-700"}]},"mark":{"type":"text","align":"left","baseline":"alphabetic","font":"Open Sans","fontSize":35,"fontWeight":"bold","color":"#0e2769"},
 "encoding":{"x":{"field":"i","type":"quantitative","axis":null},"y":{"field":"p","type":"quantitative","axis":null},"text":{"field":"t"}}},
{"data":{"values":[{"x1":290.0,"x2":300.5,"p1":676.7,"p2":687.8}]},"mark":{"type":"rect","fill":"#000000"},
 "encoding":{"x":{"field":"x1","type":"quantitative","axis":null},"x2":{"field":"x2"},"y":{"field":"p1","type":"quantitative","axis":null},"y2":{"field":"p2"}}},
{"data":{"values":[{"i":295.25,"p":682.2,"t":"680.000"}]},"mark":{"type":"text","align":"center","baseline":"middle","font":"Liberation Sans","fontSize":18,"color":"#ff2020"},
 "encoding":{"x":{"field":"i","type":"quantitative","axis":null},"y":{"field":"p","type":"quantitative","axis":null},"text":{"field":"t"}}}
]
},
{
"width":2073,"height":49,
"view":{"fill":"#c5d1dd","stroke":"#8c8c8c","strokeWidth":2},
"layer":[
{"data":{"values":[{"x1":290.9,"x2":295.2,"y1":0.1,"y2":0.84},{"x1":295.8,"x2":300.6,"y1":0.1,"y2":0.84},{"x1":-19.0,"x2":-14.6,"y1":0.14,"y2":0.78}]},
 "mark":{"type":"rect","fill":"#f2f2f2","stroke":"#7a7a7a","strokeWidth":1.5},
 "encoding":{"x":{"field":"x1","type":"quantitative","scale":{"domain":[-19.47,300.9],"nice":false,"zero":false},"axis":null},"x2":{"field":"x2"},
  "y":{"field":"y1","type":"quantitative","scale":{"domain":[0,1],"nice":false,"zero":false},"axis":null},"y2":{"field":"y2"}}},
{"data":{"values":[{"x1":-18.6,"x2":-15.0,"y1":0.2,"y2":0.7},{"x1":291.9,"x2":294.2,"y1":0.28,"y2":0.66}]},
 "mark":{"type":"rect","fill":"#ffffff","stroke":"#000000","strokeWidth":1.5},
 "encoding":{"x":{"field":"x1","type":"quantitative","axis":null},"x2":{"field":"x2"},"y":{"field":"y1","type":"quantitative","axis":null},"y2":{"field":"y2"}}},
{"data":{"values":[{"x1":-18.6,"x2":-15.0,"y1":0.6,"y2":0.7},{"x1":291.9,"x2":294.2,"y1":0.58,"y2":0.66}]},
 "mark":{"type":"rect","fill":"#000000"},
 "encoding":{"x":{"field":"x1","type":"quantitative","axis":null},"x2":{"field":"x2"},"y":{"field":"y1","type":"quantitative","axis":null},"y2":{"field":"y2"}}},
{"data":{"values":[{"i":298.2,"y":0.47,"t":"X"}]},"mark":{"type":"text","align":"center","baseline":"middle","font":"Liberation Sans","fontWeight":"bold","fontSize":22,"color":"#000"},
 "encoding":{"x":{"field":"i","type":"quantitative","axis":null},"y":{"field":"y","type":"quantitative","axis":null},"text":{"field":"t"}}},
{"data":{"name":"hdr"},"mark":{"type":"text","align":"left","baseline":"middle","font":"Liberation Sans","fontSize":18},
 "encoding":{"x":{"field":"i","type":"quantitative","axis":null},"y":{"datum":0.5,"type":"quantitative","axis":null},"text":{"field":"t"},
  "color":{"field":"g","type":"nominal","scale":{"domain":["k","n","r"],"range":["#000000","#2a2a90","#e02a2a"]},"legend":null}}}
]
},
{
"width":1998,"height":140,
"resolve":{"scale":{"y":"independent"},"axis":{"x":"independent"}},
"layer":[
{"data":{"name":"ind"},"mark":{"type":"rule","color":"#ff0000","strokeWidth":1.2},
 "encoding":{"x":{"field":"i","type":"quantitative","scale":{"domain":[-19.47,289.3],"nice":false,"zero":false},
   "axis":{"orient":"bottom","title":null,"grid":false,"values":[-19.2,0,19,39,58,79,94,117,138,160,183,204,223,245,265,287],
    "labelExpr":"datum.value < -19 ? '2019' : datum.value == 0 ? 'February' : datum.value == 19 ? 'March' : datum.value == 39 ? 'April' : datum.value == 58 ? 'May' : datum.value == 79 ? 'June' : datum.value == 94 ? 'July' : datum.value == 117 ? 'August' : datum.value == 138 ? 'September' : datum.value == 160 ? 'October' : datum.value == 183 ? 'November' : datum.value == 204 ? 'December' : datum.value == 223 ? '2020' : datum.value == 245 ? 'February' : datum.value == 265 ? 'March' : 'Ap'",
    "domainColor":"#000","domainWidth":2,"tickColor":"#000","tickWidth":1.5,"tickSize":37,
    "tickOpacity":{"condition":{"test":"datum.value < -19","value":0},"value":1},
    "labelAlign":"left","labelBaseline":"top","labelPadding":-22,"labelOffset":4,"labelFont":"Liberation Sans","labelFontSize":18,"labelColor":"#000","labelOverlap":false,"labelBound":false,"labelFlush":false}},
  "y":{"field":"v","type":"quantitative","scale":{"domain":[0,200],"nice":false,"zero":false},"axis":null},
  "y2":{"datum":0}}},
{"data":{"name":"ind"},"mark":{"type":"rule","color":"#1818c0","strokeWidth":1.2},
 "encoding":{"x":{"field":"i","type":"quantitative",
   "axis":{"orient":"bottom","title":null,"grid":false,"labels":false,"domain":false,"tickColor":"#000","tickWidth":1.5,"tickSize":8,
    "values":[-9.2,-4.1,4.8,9.9,14.6,23.6,28.4,33.5,43.4,47.9,53.3,62.5,66.3,69.9,74.0,83.5,89.0,98.6,103.5,108.7,113.8,121.8,126.1,130.7,133.8,143.3,148.4,153.5,164.2,168.8,173.4,178.5,188.7,193.7,198.8,209.0,213.6,218.7,229.9,234.8,239.6,249.8,254.8,259.7,269.8,274.7,279.8,284.9]}},
  "y":{"field":"m","type":"quantitative","scale":{"domain":[-29.4,41.6],"nice":false,"zero":false},
   "axis":{"orient":"right","title":null,"grid":false,"values":[-20,-10,0,10,20,30,40],"labelExpr":"datum.value == 0 ? '0' : ''","domainColor":"#000","domainWidth":2,"tickColor":"#000","tickWidth":2,"tickSize":8,"labelPadding":48,"labelFont":"Liberation Sans","labelFontSize":18,"labelColor":"#000"}},
  "y2":{"datum":0}}},
{"data":{"values":[{"z":0}]},"mark":{"type":"rule","color":"#2020ff","strokeWidth":2.5},
 "encoding":{"y":{"field":"z","type":"quantitative","scale":{"domain":[-29.4,41.6],"nice":false,"zero":false},"axis":null}}},
{"data":{"values":[{"s":20},{"s":80}]},"mark":{"type":"rule","color":"#2020ff","strokeWidth":2.5},
 "encoding":{"y":{"field":"s","type":"quantitative","scale":{"domain":[-10.4,107.9],"nice":false,"zero":false},"axis":null}}},
{"data":{"name":"sig"},"mark":{"type":"line","color":"#ff1a1a","strokeWidth":2},
 "encoding":{"x":{"field":"i","type":"quantitative","axis":null},"y":{"field":"val","type":"quantitative","scale":{"domain":[-29.4,41.6],"nice":false,"zero":false},"axis":null}}},
{"data":{"name":"fst"},"mark":{"type":"line","color":"#ff1a1a","strokeWidth":1.5,"interpolate":"monotone"},
 "encoding":{"x":{"field":"i","type":"quantitative","axis":null},"y":{"field":"val","type":"quantitative","scale":{"domain":[-10.4,107.9],"nice":false,"zero":false},"axis":null}}},
{"data":{"name":"stk"},"mark":{"type":"line","color":"#000000","strokeWidth":1.8,"interpolate":"monotone"},
 "encoding":{"x":{"field":"i","type":"quantitative","axis":null},"y":{"field":"val","type":"quantitative","scale":{"domain":[-10.4,107.9],"nice":false,"zero":false},"axis":null}}}
]
}
]
}
